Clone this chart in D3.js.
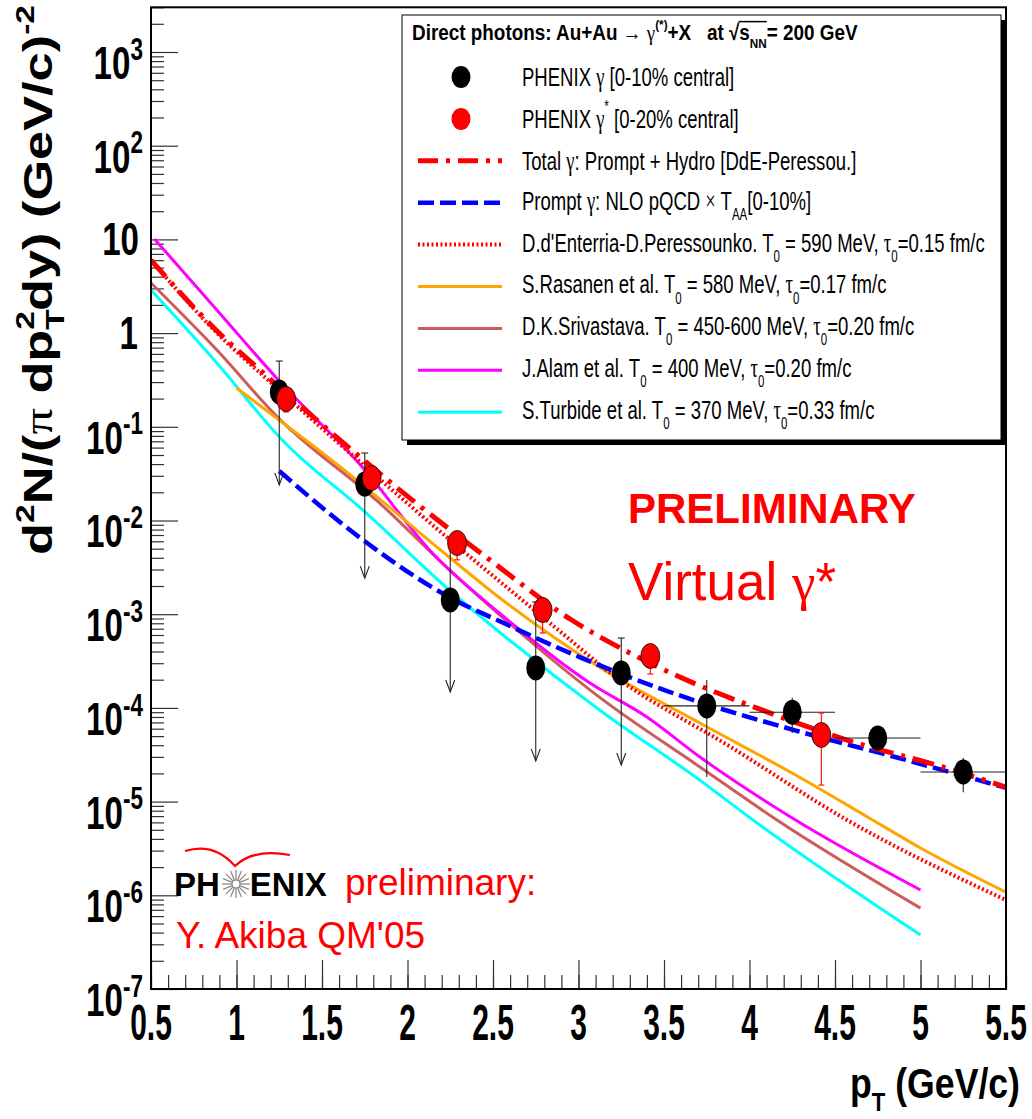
<!DOCTYPE html>
<html>
<head>
<meta charset="utf-8">
<script src="https://cdn.jsdelivr.net/npm/d3@7"></script>
<style>
body { margin: 0; background: #fff; }
svg { display: block; }
</style>
</head>
<body>
<div id="chart"></div>
<script>
var width = 1032, height = 1119;
var sans = "'Liberation Sans', Arial, Helvetica, sans-serif";
var serif = "'Liberation Serif', 'Times New Roman', serif";

// ---- values ----

// PHENIX gamma [0-10%] (first five are upper limits)
var ptBlack    = [1.25, 1.75, 2.25, 2.75, 3.25, 3.75, 4.25, 4.75, 5.25];
var yBlack     = [0.235, 0.0245, 1.42e-3, 2.67e-4, 2.36e-4, 1.05e-4, 9.0e-5, 4.77e-5, 2.07e-5];
var yBlackHi   = [0.503, 0.0525, 6.2e-3, 1.35e-3, 5.57e-4, 1.99e-4, 1.28e-4, 6.25e-5, 2.92e-5];
var yBlackLo   = [0.024, 2.43e-3, 1.48e-4, 2.71e-5, 2.46e-5, 1.83e-5, 5.4e-5, 3.56e-5, 1.26e-5];
var blackLimit = [1, 1, 1, 1, 1, 0, 0, 0, 0];
var ptBlackErr = [0, 0, 0, 0, 0, 0.25, 0.25, 0.25, 0.25];

// PHENIX gamma* [0-20%]
var ptRed   = [1.29, 1.79, 2.29, 2.79, 3.42, 4.42];
var yRed    = [0.198, 0.0284, 5.75e-3, 1.11e-3, 3.58e-4, 5.14e-5];
var yRedHi  = [0.245, 0.033, 7.0e-3, 1.4e-3, 4.6e-4, 8.83e-5];
var yRedLo  = [0.144, 0.024, 3.8e-3, 6.3e-4, 2.3e-4, 1.5e-5];

// model curves
var ptTotal = [0.5, 0.88, 1.17, 1.47, 1.97, 2.46, 2.96, 3.30, 3.67, 4.04, 4.57, 5.13, 5.5];
var yTotal  = [6.0, 1.08, 0.357, 0.118, 0.0201, 4.07e-3, 8.67e-4, 3.86e-4, 1.85e-4, 1.0e-4, 4.54e-5, 2.34e-5, 1.43e-5];

var ptPrompt = [1.25, 1.75, 2.25, 2.54, 3.02, 3.515, 4.29, 4.88, 5.5];
var yPrompt  = [0.0337, 6.0e-3, 1.5e-3, 8.4e-4, 3.4e-4, 1.52e-4, 5.6e-5, 2.9e-5, 1.4e-5];

var ptDdE = [0.5, 0.88, 1.25, 1.85, 2.29, 2.6, 2.91, 3.18, 3.9, 4.57, 5.5];
var yDdE  = [6.0, 1.03, 0.247, 0.0264, 5.35e-3, 1.81e-3, 6.15e-4, 2.41e-4, 3.73e-5, 6.37e-6, 8.9e-7];

var ptRasanen = [1.0, 1.66, 2.25, 2.54, 3.12, 3.71, 4.29, 4.69, 5.0, 5.5];
var yRasanen  = [0.259, 0.0313, 3.98e-3, 1.49e-3, 2.73e-4, 6.9e-5, 1.83e-5, 6.86e-6, 3.2e-6, 1.08e-6];

var ptSrivastava = [0.5, 0.88, 1.24, 1.85, 2.245, 2.54, 3.12, 3.71, 4.16, 5.0];
var ySrivastava  = [3.43, 0.676, 0.127, 0.0146, 2.97e-3, 9.8e-4, 1.31e-4, 2.34e-5, 6.37e-6, 7.3e-7];

var ptAlam = [0.52, 0.88, 1.25, 1.735, 2.145, 2.537, 3.065, 3.40, 3.71, 4.25, 5.0];
var yAlam  = [10.1, 1.81, 0.308, 0.0372, 4.5e-3, 1.03e-3, 1.85e-4, 8.0e-5, 2.99e-5, 6.68e-6, 1.14e-6];

var ptTurbide = [0.5, 0.88, 1.267, 1.759, 2.245, 2.537, 3.123, 3.708, 4.02, 5.0];
var yTurbide  = [2.88, 0.492, 0.0723, 0.012, 1.81e-3, 6.46e-4, 9.5e-5, 1.7e-5, 6.37e-6, 3.77e-7];

// axis ticks
var xTickValues = [0.5, 1, 1.5, 2, 2.5, 3, 3.5, 4, 4.5, 5, 5.5];
var xTickLabels = ["0.5", "1", "1.5", "2", "2.5", "3", "3.5", "4", "4.5", "5", "5.5"];
var yTickExps   = [-7, -6, -5, -4, -3, -2, -1, 0, 1, 2, 3];

var legendTitle = "Direct photons: Au+Au #rightarrow #gamma^{(*)}+X   at #sqrt{s_{NN}}= 200 GeV";
var legendLabels = [
    "PHENIX #gamma [0-10% central]",
    "PHENIX #gamma^{*} [0-20% central]",
    "Total #gamma: Prompt + Hydro [DdE-Peressou.]",
    "Prompt #gamma: NLO pQCD #times T_{AA}[0-10%]",
    "D.d'Enterria-D.Peressounko. T_{0} = 590 MeV, #tau_{0}=0.15 fm/c",
    "S.Rasanen et al. T_{0} = 580 MeV, #tau_{0}=0.17 fm/c",
    "D.K.Srivastava. T_{0} = 450-600 MeV, #tau_{0}=0.20 fm/c",
    "J.Alam et al. T_{0} = 400 MeV, #tau_{0}=0.20 fm/c",
    "S.Turbide et al. T_{0} = 370 MeV, #tau_{0}=0.33 fm/c"
];

// ---- helpers ----

var symbols = {"#gamma": "γ", "#tau": "τ", "#pi": "π", "#times": "×", "#rightarrow": "→", "#sqrt": "√"};

// tiny ROOT-latex-like splitter: _{..} ^{..} #name plain
function parseLatex(str) {
    var out = [], re = /(_\{[^}]*\}|\^\{[^}]*\}|#[a-z]+\{?|[^_^#{}]+|\})/g, m;
    while ((m = re.exec(str))) {
        var tok = m[0];
        if (tok == "}") continue;
        if (tok[0] == "_") out.push({t: tok.slice(2, -1), sub: true});
        else if (tok[0] == "^") out.push({t: tok.slice(2, -1), sup: true});
        else if (tok[0] == "#") out.push({t: symbols[tok.replace("{", "")] || tok, g: true, name: tok.replace("{", "")});
        else out.push({t: tok});
    }
    return out;
}

function label(parent, str, x0, y0, size, opts) {
    opts = opts || {};
    var g = parent.append("g");
    var t = g.append("text")
        .attr("x", x0).attr("y", y0)
        .attr("font-family", opts.family || sans)
        .attr("font-size", size)
        .attr("font-weight", opts.bold ? "bold" : "normal")
        .attr("fill", opts.color || "#000")
        .attr("text-anchor", opts.anchor || "start")
        .style("white-space", "pre");
    var cur = 0, prev = null;
    parseLatex(str).forEach(function (s) {
        var shift = 0, fs = size;
        if (s.sub) { shift = (opts.subShift || 0.38) * size; fs = (opts.small || 0.62) * size; }
        if (s.sup) { shift = -(opts.supShift || 0.45) * size; fs = (opts.small || 0.62) * size; }
        var sp = t.append("tspan").attr("dy", shift - cur).attr("font-size", fs).text(s.t);
        if (s.g && s.name != "#sqrt") sp.attr("font-family", serif).attr("font-weight", "normal");
        if (s.sup && prev && prev.sub) sp.attr("dx", -prev.node.getComputedTextLength());
        cur = shift;
        prev = {sub: s.sub, node: sp.node()};
    });
    var k = opts.k;
    if (opts.fit) k = opts.fit / t.node().getBBox().width;
    if (k) g.attr("transform", "translate(" + (x0 * (1 - k)) + ",0) scale(" + k + ",1)");
    return t;
}

// ---- svg ----

var svg = d3.select("#chart").append("svg")
    .attr("width", width)
    .attr("height", height);

svg.append("rect").attr("width", width).attr("height", height).attr("fill", "#fff");

var x = d3.scaleLinear().domain([0.5, 5.5]).range([151, 1006]);
var y = d3.scaleLog().domain([1e-7, 3000]).range([989, 7.3]);

svg.append("clipPath").attr("id", "plotclip")
    .append("rect")
    .attr("x", x(0.5)).attr("y", y(3000))
    .attr("width", x(5.5) - x(0.5)).attr("height", y(1e-7) - y(3000));

// ticks (drawn inward like ROOT)
var xMinor = d3.range(0, 51).map(function (i) { return 0.5 + i * 0.1; });
var yMinor = [];
yTickExps.forEach(function (e) {
    for (var m = 2; m <= 9; m++) {
        var v = m * Math.pow(10, e);
        if (v <= 3000) yMinor.push(v);
    }
});

function tickGroup(axis, tr) {
    var g = svg.append("g").attr("transform", tr).attr("color", "#333").call(axis);
    g.select(".domain").remove();
    g.selectAll("line").attr("stroke-width", 1.2);
    return g;
}
tickGroup(d3.axisBottom(x).tickValues(xMinor).tickSize(-14).tickFormat(""), "translate(0," + y(1e-7) + ")");
tickGroup(d3.axisBottom(x).tickValues(xTickValues).tickSize(-29).tickFormat(""), "translate(0," + y(1e-7) + ")");
tickGroup(d3.axisLeft(y).tickValues(yMinor).tickSize(-13).tickFormat(""), "translate(" + x(0.5) + ",0)");
tickGroup(d3.axisLeft(y).tickValues(yTickExps.map(function (e) { return Math.pow(10, e); })).tickSize(-27).tickFormat(""), "translate(" + x(0.5) + ",0)");

// ---- curves ----

var line = d3.line()
    .x(function (d) { return x(d[0]); })
    .y(function (d) { return y(d[1]); })
    .curve(d3.curveMonotoneX);

function pairs(a, b) { return a.map(function (v, i) { return [v, b[i]]; }); }

var curves = [
    {pts: pairs(ptTurbide, yTurbide), color: "#00ffff", w: 3},
    {pts: pairs(ptSrivastava, ySrivastava), color: "#cd5c5c", w: 3},
    {pts: pairs(ptAlam, yAlam), color: "#ff00ff", w: 3},
    {pts: pairs(ptRasanen, yRasanen), color: "#ffa500", w: 3},
    {pts: pairs(ptDdE, yDdE), color: "#ff0000", w: 4, dash: "2,2.5"},
    {pts: pairs(ptPrompt, yPrompt), color: "#0000ff", w: 4.5, dash: "16,6"},
    {pts: pairs(ptTotal, yTotal), color: "#ff0000", w: 5, dash: "22,8,4,8"}
];

var plot = svg.append("g").attr("clip-path", "url(#plotclip)");

plot.selectAll(".curve")
    .data(curves)
    .enter().append("path")
    .attr("class", "curve")
    .attr("d", function (d) { return line(d.pts); })
    .attr("fill", "none")
    .attr("stroke", function (d) { return d.color; })
    .attr("stroke-width", function (d) { return d.w; })
    .attr("stroke-dasharray", function (d) { return d.dash || null; });

// ---- data points ----

var ebars = plot.append("g").attr("stroke-width", 1.1).attr("fill", "none");

ptBlack.forEach(function (pt, i) {
    var cx = x(pt), cy = y(yBlack[i]), top = y(yBlackHi[i]), bot = y(yBlackLo[i]);
    if (ptBlackErr[i] > 0) {
        ebars.append("line").attr("stroke", "#222")
            .attr("x1", x(pt - ptBlackErr[i])).attr("x2", x(pt + ptBlackErr[i]))
            .attr("y1", cy).attr("y2", cy);
    }
    ebars.append("line").attr("stroke", "#222")
        .attr("x1", cx).attr("x2", cx).attr("y1", top).attr("y2", bot);
    if (blackLimit[i]) {
        ebars.append("line").attr("stroke", "#222")
            .attr("x1", cx - 3.5).attr("x2", cx + 3.5).attr("y1", top).attr("y2", top);
        ebars.append("path").attr("stroke", "#222")
            .attr("d", "M" + (cx - 4.5) + "," + (bot - 12) + "L" + cx + "," + bot + "L" + (cx + 4.5) + "," + (bot - 12));
    }
});

ptRed.forEach(function (pt, i) {
    var cx = x(pt), top = y(yRedHi[i]), bot = y(yRedLo[i]);
    ebars.append("line").attr("stroke", "#ff0000")
        .attr("x1", cx).attr("x2", cx).attr("y1", top).attr("y2", bot);
    [top, bot].forEach(function (yy) {
        ebars.append("line").attr("stroke", "#ff0000")
            .attr("x1", cx - 3).attr("x2", cx + 3).attr("y1", yy).attr("y2", yy);
    });
});

plot.selectAll(".black")
    .data(ptBlack)
    .enter().append("ellipse")
    .attr("class", "black")
    .attr("cx", function (d) { return x(d); })
    .attr("cy", function (d, i) { return y(yBlack[i]); })
    .attr("rx", 9.5).attr("ry", 12.5)
    .attr("fill", "#000");

plot.selectAll(".red")
    .data(ptRed)
    .enter().append("ellipse")
    .attr("class", "red")
    .attr("cx", function (d) { return x(d); })
    .attr("cy", function (d, i) { return y(yRed[i]); })
    .attr("rx", 9.5).attr("ry", 12.5)
    .attr("fill", "#ff0000")
    .attr("stroke", "#000").attr("stroke-width", 0.8);

// frame
svg.append("rect")
    .attr("x", x(0.5)).attr("y", y(3000))
    .attr("width", x(5.5) - x(0.5)).attr("height", y(1e-7) - y(3000))
    .attr("fill", "none").attr("stroke", "#000").attr("stroke-width", 2);

// ---- axis labels ----

xTickValues.forEach(function (v, i) {
    label(svg, xTickLabels[i], x(v), 1040, 50, {bold: true, anchor: "middle", k: 0.6});
});

yTickExps.forEach(function (e) {
    var ty = y(Math.pow(10, e));
    if (e == 0) label(svg, "1", 138, ty + 16, 46, {bold: true, anchor: "end", k: 0.72});
    else if (e == 1) label(svg, "10", 139, ty + 16, 46, {bold: true, anchor: "end", k: 0.72});
    else label(svg, "10^{" + e + "}", 143, ty + 27, 46, {bold: true, anchor: "end", k: 0.72, supShift: 0.42, small: 0.68});
});

label(svg, "p_{T} (GeV/c)", 1020, 1098, 42, {bold: true, anchor: "end", fit: 170, subShift: 0.3});

// y title, rotated
(function () {
    var g = svg.append("g");
    var t = g.append("text")
        .attr("x", 0).attr("y", 0)
        .attr("font-family", sans).attr("font-size", 50).attr("font-weight", "bold")
        .attr("text-anchor", "middle")
        .style("white-space", "pre");
    var cur = 0, prev = null;
    parseLatex("d^{2}N/(#pi dp_{T}^{2}dy) (GeV/c)^{-2}").forEach(function (s) {
        var shift = s.sub ? 15 : s.sup ? -22 : 0;
        var sp = t.append("tspan").attr("dy", shift - cur).attr("font-size", (s.sub || s.sup) ? 32 : 50).text(s.t);
        if (s.g) sp.attr("font-family", serif).attr("font-weight", "normal");
        if (s.sup && prev && prev.sub) sp.attr("dx", -prev.node.getComputedTextLength());
        cur = shift;
        prev = {sub: s.sub, node: sp.node()};
    });
    var L = t.node().getBBox().width;
    g.attr("transform", "translate(52,280) scale(0.8," + (550 / L) + ") rotate(-90)");
})();

// ---- legend ----

var leg = svg.append("g");
leg.append("rect").attr("x", 407).attr("y", 20).attr("width", 599).attr("height", 425).attr("fill", "#000");
leg.append("rect").attr("x", 402).attr("y", 15).attr("width", 599).attr("height", 425)
    .attr("fill", "#fff").attr("stroke", "#000").attr("stroke-width", 1);

(function () {
    var t = label(leg, legendTitle, 412, 40, 22, {bold: true, fit: 446, supShift: 0.5});
    // bar over s_NN
    var full = t.text();
    var i0 = full.indexOf("√"), i1 = full.indexOf("NN") + 1;
    var a = t.node().getExtentOfChar(i0), b = t.node().getExtentOfChar(i1);
    d3.select(t.node().parentNode).append("line")
        .attr("x1", a.x + a.width - 1).attr("x2", b.x + b.width)
        .attr("y1", a.y + 2).attr("y2", a.y + 2)
        .attr("stroke", "#000").attr("stroke-width", 1.5);
})();

var legendStyle = [
    {marker: "#000"},
    {marker: "#ff0000"},
    {color: "#ff0000", w: 5, dash: "20,8,4,8"},
    {color: "#0000ff", w: 4.5, dash: "16,6"},
    {color: "#ff0000", w: 4, dash: "2,2.5"},
    {color: "#ffa500", w: 3},
    {color: "#cd5c5c", w: 3},
    {color: "#ff00ff", w: 3},
    {color: "#00ffff", w: 3}
];

legendLabels.forEach(function (txt, i) {
    var cy = 77 + 41.9 * i, st = legendStyle[i];
    if (st.marker) {
        leg.append("ellipse").attr("cx", 461).attr("cy", cy).attr("rx", 9.5).attr("ry", 11)
            .attr("fill", st.marker);
    } else {
        leg.append("line").attr("x1", 418).attr("x2", 502).attr("y1", cy).attr("y2", cy)
            .attr("stroke", st.color).attr("stroke-width", st.w)
            .attr("stroke-dasharray", st.dash || null);
    }
    var hasSub = txt.indexOf("_{") >= 0;
    label(leg, txt, 522, cy + (hasSub ? 7 : 9.5), 26.5, {k: 0.70, supShift: 0.6});
});

// ---- annotations ----

svg.append("text").attr("x", 628).attr("y", 523)
    .attr("font-family", sans).attr("font-size", 42).attr("font-weight", "bold")
    .attr("fill", "#ff0000").text("PRELIMINARY");

var vt = svg.append("text").attr("x", 628).attr("y", 600)
    .attr("font-family", sans).attr("font-size", 53).attr("fill", "#ff0000")
    .style("white-space", "pre");
vt.append("tspan").text("Virtual ");
vt.append("tspan").attr("font-family", serif).text("γ");
vt.append("tspan").text("*");

// PHENIX logo
var logo = svg.append("g");
var lt = logo.append("text").attr("x", 174).attr("y", 896)
    .attr("font-family", sans).attr("font-size", 33).attr("font-weight", "bold").attr("fill", "#000")
    .style("white-space", "pre");
lt.append("tspan").text("PH");
lt.append("tspan").attr("dx", 30).text("ENIX");
var sun = logo.append("g").attr("transform", "translate(236,884)");
d3.range(16).forEach(function (i) {
    var a = i * Math.PI / 8;
    sun.append("line")
        .attr("x1", 4 * Math.cos(a)).attr("y1", 4 * Math.sin(a))
        .attr("x2", 14 * Math.cos(a)).attr("y2", 14 * Math.sin(a))
        .attr("stroke", "#8a8a8a").attr("stroke-width", 1.3);
});
sun.append("circle").attr("r", 4).attr("fill", "none").attr("stroke", "#8a8a8a").attr("stroke-width", 1);
logo.append("path")
    .attr("d", "M185,851 Q214,842 235,866 Q254,848 290,855")
    .attr("fill", "none").attr("stroke", "#ff0000").attr("stroke-width", 2.2);

svg.append("text").attr("x", 345).attr("y", 895)
    .attr("font-family", sans).attr("font-size", 37).attr("fill", "#ff0000")
    .text("preliminary:");
svg.append("text").attr("x", 176).attr("y", 948)
    .attr("font-family", sans).attr("font-size", 37).attr("fill", "#ff0000")
    .text("Y. Akiba QM'05");
</script>
</body>
</html>
